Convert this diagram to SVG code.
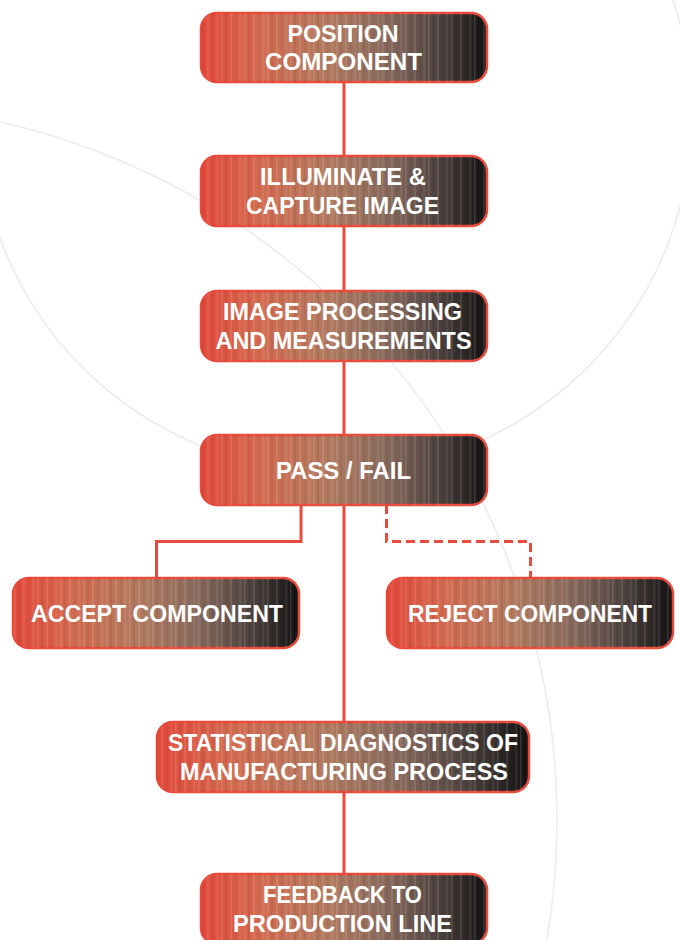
<svg xmlns="http://www.w3.org/2000/svg" width="680" height="940" viewBox="0 0 680 940">
<defs>
<linearGradient id="g" x1="0" y1="0" x2="1" y2="0">
<stop offset="0" stop-color="#e2483a"/>
<stop offset="0.2" stop-color="#d36a4f"/>
<stop offset="0.45" stop-color="#b07a60"/>
<stop offset="0.65" stop-color="#87695c"/>
<stop offset="0.82" stop-color="#514541"/>
<stop offset="1" stop-color="#121212"/>
</linearGradient>
<pattern id="stripes" patternUnits="userSpaceOnUse" width="23" height="10">
<rect x="0" y="0" width="2" height="10" fill="#fff" opacity="0.10"/>
<rect x="5" y="0" width="1.5" height="10" fill="#000" opacity="0.06"/>
<rect x="9" y="0" width="2.5" height="10" fill="#fff" opacity="0.07"/>
<rect x="14" y="0" width="1.5" height="10" fill="#fff" opacity="0.12"/>
<rect x="18" y="0" width="2" height="10" fill="#000" opacity="0.07"/>
</pattern>
<style>
.box{fill:url(#g);stroke:#e84a3b;stroke-width:2.5}
.tex{fill:url(#stripes);stroke:none}
.lbl{font-family:"Liberation Sans",Arial,sans-serif;font-weight:bold;font-size:23px;fill:#fff;text-anchor:middle}
.bg{fill:none;stroke:#ececec;stroke-width:1.6}
.ln{fill:none;stroke:#e84a3b;stroke-width:3}
.dash{stroke-dasharray:9 5}
</style>
</defs>
<rect width="680" height="940" fill="#fff"/>
<g id="background">
<circle class="bg" cx="-159" cy="820" r="716"/>
<circle class="bg" cx="335" cy="115" r="357"/>
</g>
<g id="connectors">
<line class="ln" x1="344" y1="82" x2="344" y2="156"/>
<line class="ln" x1="344" y1="226" x2="344" y2="291"/>
<line class="ln" x1="344" y1="361" x2="344" y2="435"/>
<line class="ln" x1="344" y1="505" x2="344" y2="722"/>
<line class="ln" x1="344" y1="792" x2="344" y2="874"/>
<polyline class="ln" points="301,505 301,541.5 156.5,541.5 156.5,578"/>
<polyline class="ln dash" points="386.5,505 386.5,541.5 530.5,541.5 530.5,578"/>
</g>
<g id="n1">
<rect class="box" x="201" y="13" width="286" height="69" rx="16"/>
<rect class="tex" x="201" y="13" width="286" height="69" rx="16"/>
<text class="lbl" x="343" y="41.5" textLength="111" lengthAdjust="spacingAndGlyphs">POSITION</text>
<text class="lbl" x="343.5" y="70" textLength="157" lengthAdjust="spacingAndGlyphs">COMPONENT</text>
</g>
<g id="n2">
<rect class="box" x="201" y="156" width="286" height="70" rx="16"/>
<rect class="tex" x="201" y="156" width="286" height="70" rx="16"/>
<text class="lbl" x="343" y="185" textLength="166" lengthAdjust="spacingAndGlyphs">ILLUMINATE &amp;</text>
<text class="lbl" x="342.5" y="213.5" textLength="193" lengthAdjust="spacingAndGlyphs">CAPTURE IMAGE</text>
</g>
<g id="n3">
<rect class="box" x="201" y="291" width="286" height="70" rx="16"/>
<rect class="tex" x="201" y="291" width="286" height="70" rx="16"/>
<text class="lbl" x="342.5" y="320" textLength="239" lengthAdjust="spacingAndGlyphs">IMAGE PROCESSING</text>
<text class="lbl" x="343.5" y="348.5" textLength="256" lengthAdjust="spacingAndGlyphs">AND MEASUREMENTS</text>
</g>
<g id="n4">
<rect class="box" x="201" y="435" width="286" height="70" rx="16"/>
<rect class="tex" x="201" y="435" width="286" height="70" rx="16"/>
<text class="lbl" x="343.5" y="478.5" textLength="135" lengthAdjust="spacingAndGlyphs">PASS / FAIL</text>
</g>
<g id="n5">
<rect class="box" x="13" y="578" width="286" height="70" rx="16"/>
<rect class="tex" x="13" y="578" width="286" height="70" rx="16"/>
<text class="lbl" x="157" y="621.5" textLength="252" lengthAdjust="spacingAndGlyphs">ACCEPT COMPONENT</text>
</g>
<g id="n6">
<rect class="box" x="387" y="578" width="286" height="70" rx="16"/>
<rect class="tex" x="387" y="578" width="286" height="70" rx="16"/>
<text class="lbl" x="530" y="621.5" textLength="244" lengthAdjust="spacingAndGlyphs">REJECT COMPONENT</text>
</g>
<g id="n7">
<rect class="box" x="157" y="722" width="372" height="70" rx="16"/>
<rect class="tex" x="157" y="722" width="372" height="70" rx="16"/>
<text class="lbl" x="343" y="751.25" textLength="350" lengthAdjust="spacingAndGlyphs">STATISTICAL DIAGNOSTICS OF</text>
<text class="lbl" x="344" y="779.75" textLength="328" lengthAdjust="spacingAndGlyphs">MANUFACTURING PROCESS</text>
</g>
<g id="n8">
<rect class="box" x="201" y="874" width="286" height="70" rx="16"/>
<rect class="tex" x="201" y="874" width="286" height="70" rx="16"/>
<text class="lbl" x="342.5" y="903.25" textLength="159" lengthAdjust="spacingAndGlyphs">FEEDBACK TO</text>
<text class="lbl" x="342.5" y="931.75" textLength="219" lengthAdjust="spacingAndGlyphs">PRODUCTION LINE</text>
</g>
</svg>
